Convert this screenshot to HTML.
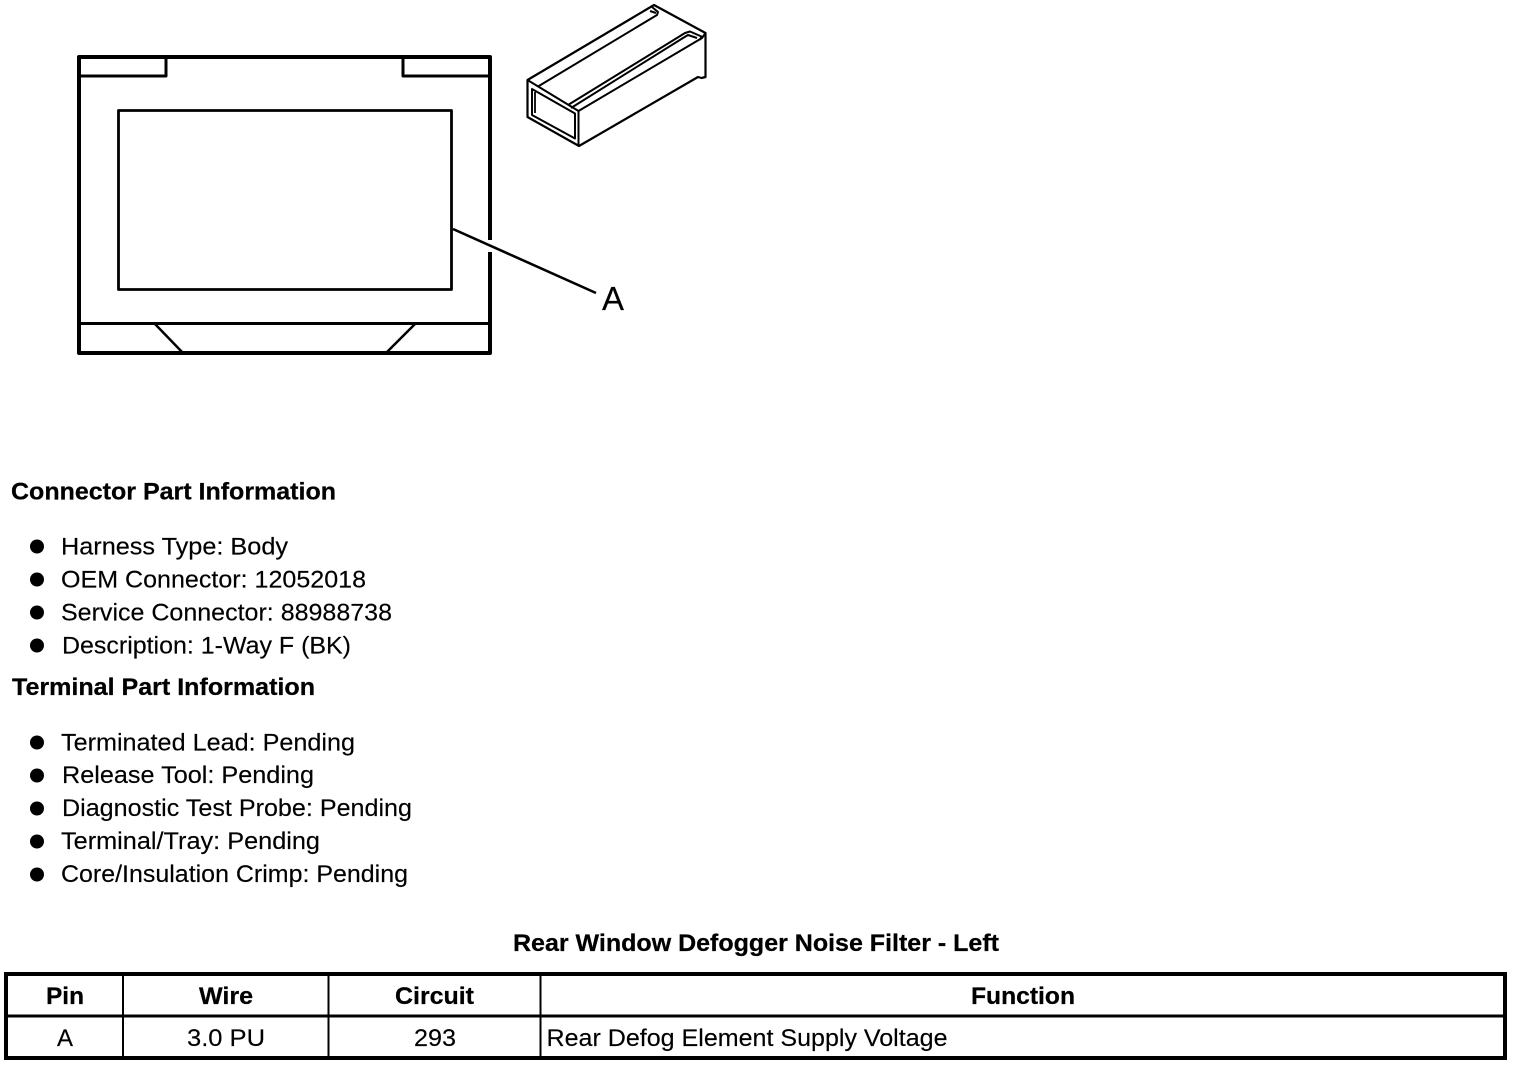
<!DOCTYPE html>
<html><head><meta charset="utf-8"><style>
html,body{margin:0;padding:0;background:#fff;width:1520px;height:1066px;overflow:hidden}
svg{display:block}
text{font-family:"Liberation Sans",sans-serif;font-size:24px;fill:#000}
.b{font-weight:700;stroke:#000;stroke-width:.25px}
.n{stroke:#000;stroke-width:.15px}
</style></head><body>
<svg width="1520" height="1066" viewBox="0 0 1520 1066" xmlns="http://www.w3.org/2000/svg">
<g fill="none" stroke="#000" stroke-linejoin="round">
<rect x="79" y="57" width="411" height="296" stroke-width="4"/>
<path d="M79 76H166V57M490 76H403V57" stroke-width="3"/>
<rect x="118.500" y="110.500" width="333" height="179" stroke-width="2.800"/>
<path d="M79 323.500H490" stroke-width="3"/>
<path d="M155 324L183 353M415 324L386 353" stroke-width="2.500"/>
</g>
<path d="M487 240H493V252H487Z" fill="#fff"/>
<path d="M453 229L596 293" stroke="#000" stroke-width="2.600" fill="none"/>
<g fill="none" stroke="#000" stroke-width="2" stroke-linejoin="round">
<path d="M527.500 80L654 5L705.500 33V77L701.500 78L698 77L579 146L527.500 117Z" stroke-width="2.200"/>
<path d="M527.500 80L578.500 111V146"/>
<path d="M578.500 111L702 38L705.500 33"/>
<path d="M532 89L575 113.500V138.500L532 115Z"/>
<path d="M535 92V113" stroke-width="1.800"/>
<path d="M568 105L685 33L690 31.500L701.500 36.500L700 40"/>
<path d="M571 108L683 38L688 35L697 38"/>
<path d="M538 86.500L657 15L658 12L652 7"/>
<path d="M650 11L656 13"/>
</g>
<text x="602" y="310" font-size="33" textLength="22" lengthAdjust="spacingAndGlyphs" style="font-size:33px" class="n">A</text>
<text x="11" y="499.500" class="b" textLength="325" lengthAdjust="spacingAndGlyphs">Connector Part Information</text>
<text x="61" y="554.500" class="n" textLength="227" lengthAdjust="spacingAndGlyphs">Harness Type: Body</text>
<text x="61" y="587.500" class="n" textLength="305" lengthAdjust="spacingAndGlyphs">OEM Connector: 12052018</text>
<text x="61" y="620.500" class="n" textLength="331" lengthAdjust="spacingAndGlyphs">Service Connector: 88988738</text>
<text x="62" y="653.500" class="n" textLength="289" lengthAdjust="spacingAndGlyphs">Description: 1-Way F (BK)</text>
<text x="12" y="695" class="b" textLength="303" lengthAdjust="spacingAndGlyphs">Terminal Part Information</text>
<text x="61" y="750.500" class="n" textLength="294" lengthAdjust="spacingAndGlyphs">Terminated Lead: Pending</text>
<text x="62" y="783" class="n" textLength="252" lengthAdjust="spacingAndGlyphs">Release Tool: Pending</text>
<text x="62" y="816" class="n" textLength="350" lengthAdjust="spacingAndGlyphs">Diagnostic Test Probe: Pending</text>
<text x="61" y="849" class="n" textLength="259" lengthAdjust="spacingAndGlyphs">Terminal/Tray: Pending</text>
<text x="61" y="882" class="n" textLength="347" lengthAdjust="spacingAndGlyphs">Core/Insulation Crimp: Pending</text>
<g fill="#000">
<circle cx="37" cy="546.500" r="7"/><circle cx="37" cy="579.500" r="7"/><circle cx="37" cy="612.500" r="7"/><circle cx="37" cy="645.500" r="7"/>
<circle cx="37" cy="742.500" r="7"/><circle cx="37" cy="775.500" r="7"/><circle cx="37" cy="808.500" r="7"/><circle cx="37" cy="841.500" r="7"/><circle cx="37" cy="874.500" r="7"/>
</g>
<text x="513" y="951" class="b" textLength="486" lengthAdjust="spacingAndGlyphs">Rear Window Defogger Noise Filter - Left</text>
<g fill="none" stroke="#000" shape-rendering="crispEdges">
<rect x="6" y="974" width="1499" height="84" stroke-width="4"/>
<path d="M6 1016H1505" stroke-width="3"/>
<path d="M123 974V1058M328.500 974V1058M540.500 974V1058" stroke-width="2"/>
</g>
<text x="46" y="1004" class="b" textLength="38" lengthAdjust="spacingAndGlyphs">Pin</text>
<text x="199" y="1004" class="b" textLength="54" lengthAdjust="spacingAndGlyphs">Wire</text>
<text x="395" y="1004" class="b" textLength="79" lengthAdjust="spacingAndGlyphs">Circuit</text>
<text x="971" y="1004" class="b" textLength="104" lengthAdjust="spacingAndGlyphs">Function</text>
<text x="57" y="1046" class="n" textLength="16" lengthAdjust="spacingAndGlyphs">A</text>
<text x="187" y="1046" class="n" textLength="78" lengthAdjust="spacingAndGlyphs">3.0 PU</text>
<text x="414" y="1046" class="n" textLength="42" lengthAdjust="spacingAndGlyphs">293</text>
<text x="546.500" y="1046" class="n" textLength="401" lengthAdjust="spacingAndGlyphs">Rear Defog Element Supply Voltage</text>
</svg>
</body></html>
